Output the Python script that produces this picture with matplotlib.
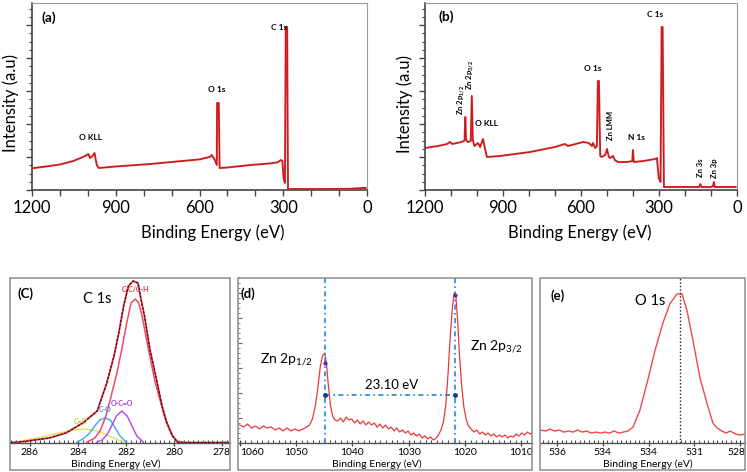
import matplotlib
matplotlib.use("Agg")
import matplotlib.pyplot as plt
from matplotlib.ticker import MultipleLocator, FixedLocator, FixedFormatter
from matplotlib.patches import Rectangle
from matplotlib.transforms import ScaledTranslation

plt.rcParams['font.family'] = ['Lato', 'DejaVu Sans']
plt.rcParams['mathtext.fontset'] = 'custom'
plt.rcParams['mathtext.rm'] = 'Lato'
plt.rcParams['mathtext.bf'] = 'Lato:bold'

# ---------------- data ----------------
# (a) survey spectrum
a_be = [1200, 1150, 1100, 1052, 1009, 998, 992, 983, 976, 968, 960, 900, 776, 700, 597, 561, 556, 545,
        538, 537, 531, 528, 526, 500, 417, 350, 320, 308, 303, 299, 294, 291, 286, 283, 270, 150, 60, 15, 5]
a_int = [21.7, 23.5, 25.5, 29, 34, 36, 32, 34, 37, 25, 22, 23.5, 26, 28, 30.7, 33.3, 35, 30,
         25, 87, 87, 22, 22, 22.5, 25, 26.5, 27.7, 30, 29, 12, 7, 163, 163, 1, 1, 1, 1.2, 2, 2]

# (b) survey spectrum
b_be = [1200, 1150, 1115, 1104, 1095, 1060, 1050, 1048, 1045, 1042, 1035, 1024, 1020, 1016, 1010,
        996, 988, 977, 968, 962, 912, 796, 700, 662, 650, 592, 570, 558, 554, 545, 539, 535, 531,
        526, 521, 507, 500, 493, 488, 477, 470, 458, 420, 403, 400, 397, 360, 315, 308, 301, 294,
        290, 286, 281, 200, 145, 141, 137, 100, 92, 89, 86, 40, 5]
b_int = [42, 44, 46, 48, 46, 48, 49, 50, 73, 50, 48, 49, 94, 50, 44,
         47, 43, 51, 40, 33, 34, 38, 43, 46, 44, 48, 47, 44, 47, 42, 44, 109, 109,
         34, 33, 35, 41, 33, 32, 34, 30, 28, 28, 29, 40, 28, 29, 31, 32, 12, 8,
         163, 163, 3, 3, 3, 6, 3, 3, 4, 8, 3, 3, 3]

# (c) C 1s high resolution
c_env_be = [286.8, 286.4, 285.8, 285.2, 284.5, 283.8, 283.2, 282.8, 282.5, 282.3, 282.1, 281.9,
            281.7, 281.5, 281.37, 281.23, 281.0, 280.7, 280.5, 280.3, 280.08, 279.87, 279.5, 277.7]
c_env_int = [0.5, 1, 3, 5, 10, 20, 32, 60, 87, 110, 137, 157,
             162, 160, 143, 127, 93, 60, 37, 20, 8, 1, 0.5, 0.5]
c_cc_be = [283.63, 283.3, 283.08, 282.85, 282.66, 282.38, 282.18, 281.97, 281.79, 281.61, 281.47,
           281.33, 281.06, 280.78, 280.40, 280.08, 279.80]
c_cc_int = [0.7, 5, 12, 26, 43, 70, 93, 120, 140, 144, 140, 127, 93, 60, 27, 7, 0.7]
c_co_be = [284.05, 283.8, 283.55, 283.3, 283.1, 282.87, 282.65, 282.45, 282.25, 282.0]
c_co_int = [0.7, 4, 9, 17, 23, 25, 23, 15, 7, 1]
c_oco_be = [283.22, 283.0, 282.8, 282.6, 282.4, 282.18, 281.95, 281.75, 281.55, 281.27]
c_oco_int = [0.7, 3, 8, 17, 27, 32, 27, 17, 7, 0.7]
c_y_be = [286.41, 285.8, 285.17, 284.6, 284.19, 283.77, 283.4, 283.08, 282.8, 282.52, 282.1]
c_y_int = [2, 4.5, 8, 11, 13, 14, 13, 11, 8, 5, 0.7]
c_tick_pos = [286, 284, 282, 280, 278]

# (d) Zn 2p
d_be = [1060.0, 1059.3, 1058.6, 1057.9, 1057.2, 1056.5, 1055.8, 1055.1, 1054.4, 1053.7, 1053.0,
        1052.3, 1051.6, 1050.9, 1050.2, 1049.5, 1048.8, 1048.1, 1047.6, 1047.1, 1046.6, 1046.1,
        1045.7, 1045.3, 1044.9, 1044.6, 1044.3, 1043.9, 1043.5, 1043.1, 1042.6, 1042.1, 1041.6,
        1041.1, 1040.6, 1040.1, 1039.6, 1039.1, 1038.6, 1038.1, 1037.6, 1037.1, 1036.6, 1036.1,
        1035.6, 1035.1, 1034.6, 1034.1, 1033.6, 1033.1, 1032.6, 1032.1, 1031.6, 1031.1, 1030.6,
        1030.1, 1029.6, 1029.1, 1028.6, 1028.1, 1027.6, 1027.1, 1026.6, 1026.1, 1025.6, 1025.1,
        1024.6, 1024.2, 1023.8, 1023.4, 1023.0, 1022.6, 1022.2, 1021.9, 1021.6, 1021.3, 1021.0,
        1020.6, 1020.2, 1019.8, 1019.4, 1018.9, 1018.4, 1017.9, 1017.4, 1016.9, 1016.4, 1015.9,
        1015.4, 1014.9, 1014.4, 1013.9, 1013.4, 1012.9, 1012.4, 1011.9, 1011.4, 1010.9, 1010.4,
        1009.9, 1009.4, 1008.9, 1008.4, 1008.1]
d_int = [18, 16, 19, 15, 17, 14, 17, 15, 16, 13, 15,
         12, 15, 12, 14, 12, 14, 16, 18, 24, 36, 56,
         76, 87, 90, 80, 60, 38, 27, 23, 22, 25, 21,
         26, 23, 24, 20, 23, 19, 22, 18, 21, 18, 20,
         16, 19, 15, 18, 14, 16, 12, 15, 11, 13, 10,
         12, 8, 10, 7, 9, 5, 7, 4, 6, 3, 5,
         9, 14, 22, 38, 70, 108, 138, 150, 146, 122, 90,
         58, 36, 24, 17, 14, 11, 13, 9, 11, 8, 10,
         7, 9, 6, 8, 6, 8, 5, 7, 6, 9, 7,
         10, 8, 11, 9, 10]
d_peaks = [1044.9, 1021.8]
d_tick_pos = [1060, 1050, 1040, 1030, 1020, 1010]

# (e) O 1s
e_be = [536.7, 536.5, 536.3, 536.1, 535.9, 535.7, 535.5, 535.3, 535.1, 534.9, 534.7, 534.5, 534.3,
        534.1, 533.9, 533.7, 533.5, 533.3, 533.1, 532.9, 532.68, 532.38, 532.07, 531.72, 531.37,
        531.07, 530.76, 530.54, 530.32, 530.06, 529.76, 529.45, 529.19, 529.0, 528.8, 528.6,
        528.45, 528.2, 528.0, 527.8]
e_int = [13, 12, 14, 12, 13, 11, 12, 11, 13, 11, 12, 10, 11,
         10, 11, 10, 12, 10, 11, 12, 16, 33, 60, 93, 121,
         140, 150, 150, 133, 103, 66, 40, 20, 15, 12, 10,
         12, 9, 8, 9]
e_peak = 530.63
e_tick_pos = [536, 534, 532, 530, 528]
e_tick_lab = ["536", "534", "534", "531", "528"]

# ---------------- figure ----------------
W, H = 747, 472
fig = plt.figure(figsize=(W / 100, H / 100), dpi=100)


def box(l, t, r, b):
    return [l / W, 1 - b / H, (r - l) / W, (b - t) / H]


def frame(l, t, r, b):
    fig.add_artist(Rectangle((l / W, 1 - b / H), (r - l) / W, (b - t) / H,
                             transform=fig.transFigure, fill=False, ec='#8c8c8c', lw=1.1, zorder=5))


RED = '#e8262a'
DARK = '#4a0000'


def survey(ax, be, inten, xlab_x):
    ax.plot(be, inten, color=RED, lw=1.4, zorder=3)
    ax.plot(be, inten, color=DARK, lw=0.5, alpha=0.35, zorder=4)
    ax.set_xlim(1200, 0)
    ax.set_ylim(0, 187)
    ax.xaxis.set_major_locator(MultipleLocator(300))
    ax.xaxis.set_minor_locator(MultipleLocator(100))
    ax.yaxis.set_major_locator(MultipleLocator(33))
    ax.yaxis.set_minor_locator(MultipleLocator(8.25))
    ax.tick_params(axis='x', which='both', direction='out', length=4, width=1, color='#444444',
                   labelsize=12, pad=3)
    ax.tick_params(axis='y', which='major', direction='out', length=4, width=1, color='#444444',
                   labelleft=False)
    ax.tick_params(axis='y', which='minor', direction='out', length=2, width=0.8, color='#444444')
    for s in ('top', 'right'):
        ax.spines[s].set_color('#9a9a9a')
    for s in ('left', 'bottom'):
        ax.spines[s].set_color('#444444')
        ax.spines[s].set_linewidth(1.2)
    ax.set_xlabel('Binding Energy (eV)', fontsize=12, va='baseline')
    ax.xaxis.set_label_coords(xlab_x, -0.257)
    ax.set_ylabel('Intensity (a.u)', fontsize=12, va='bottom')
    ax.yaxis.set_label_coords(-0.039, 0.465)


# (a)
axa = fig.add_axes(box(32, 3, 367, 190))
survey(axa, a_be, a_int, 0.54)
lab = dict(fontsize=6, fontweight='bold', ha='center', va='center')
axa.text(1141, 172, '(a)', fontsize=10, fontweight='bold', ha='center', va='center')
axa.text(315, 163, 'C 1s', **lab)
axa.text(537, 100, 'O 1s', **lab)
axa.text(989, 53, 'O KLL', **lab)

# (b)
axb = fig.add_axes(box(425, 3, 737, 190))
survey(axb, b_be, b_int, 0.497)
axb.yaxis.set_label_coords(-0.04, 0.46)
axb.text(1117, 173, '(b)', fontsize=10, fontweight='bold', ha='center', va='center')
axb.text(315, 176, 'C 1s', **lab)
axb.text(554, 122, 'O 1s', **lab)
axb.text(962, 66, 'O KLL', **lab)
axb.text(385, 53, 'N 1s', **lab)
rl = dict(fontsize=5.5, fontweight='bold', ha='center', va='center', rotation=90, rotation_mode='anchor')
axb.text(1058, 90, r'Zn 2p$_{\mathbf{1/2}}$', **rl)
axb.text(1023, 115, r'Zn 2p$_{\mathbf{3/2}}$', **rl)
axb.text(488, 65, 'Zn LMM', **rl)
axb.text(142, 22, 'Zn 3s', **rl)
axb.text(85, 22, 'Zn 3p', **rl)


def hires(ax, xlim, ylim, ticks, minor, xlab_x, labels=None):
    ax.set_xlim(*xlim)
    ax.set_ylim(*ylim)
    ax.xaxis.set_major_locator(FixedLocator(ticks))
    ax.xaxis.set_major_formatter(FixedFormatter(labels if labels else [str(t) for t in ticks]))
    ax.xaxis.set_minor_locator(MultipleLocator(minor))
    ax.tick_params(axis='x', which='major', direction='inout', length=4, width=0.9, color='#444444',
                   labelsize=7.5, pad=1.5)
    ax.tick_params(axis='x', which='minor', direction='in', length=2, width=0.7, color='#444444')
    ax.tick_params(axis='y', which='both', left=False, labelleft=False)
    for s in ('top', 'left', 'right'):
        ax.spines[s].set_visible(False)
    ax.spines['bottom'].set_color('#555555')
    ax.spines['bottom'].set_linewidth(1.0)
    ax.patch.set_alpha(0)
    ax.set_xlabel('Binding Energy (eV)', fontsize=7.5, va='baseline')
    ax.xaxis.set_label_coords(xlab_x, -0.145)


def nudge(ax, idx, dx_px, ha):
    tk = ax.xaxis.get_major_ticks()[idx]
    tk.label1.set_horizontalalignment(ha)
    tk.label1.set_transform(tk.label1.get_transform() +
                            ScaledTranslation(dx_px / 100, 0, fig.dpi_scale_trans))


# (c)
frame(10, 278, 230, 470)
axc = fig.add_axes(box(10, 278, 230, 443))
hires(axc, (286.83, 277.67), (0, 165), c_tick_pos, 0.2, 0.48)
nudge(axc, 4, -1, 'center')
axc.plot(c_y_be, c_y_int, color='#e2e25a', lw=1.0)
axc.plot(c_co_be, c_co_int, color='#3aa8f0', lw=1.0)
axc.plot(c_oco_be, c_oco_int, color='#b048e8', lw=1.0)
axc.plot(c_cc_be, c_cc_int, color='#f04a68', lw=1.1)
axc.plot(c_env_be, c_env_int, color='#e03040', lw=1.3)
axc.plot(c_env_be, c_env_int, color='#3a0808', lw=0.8, dashes=(2, 1.5))
axc.text(286.5, 149, '(C)', fontsize=9.5, fontweight='bold', ha='left', va='center')
axc.text(283.79, 144, 'C 1s', fontsize=10.5, ha='left', va='center')
sl = dict(fontsize=5, fontweight='bold', ha='center', va='center')
axc.text(281.62, 153, 'C-C/C-H', color='#e03040', **sl)
axc.text(282.87, 33, 'C-O', color='#2a90e0', **sl)
axc.text(282.16, 40, 'O-C=O', color='#a030e0', **sl)
axc.text(283.9, 21, 'C=O', color='#9acd32', **sl)

# (d)
frame(238, 278, 532, 470)
axd = fig.add_axes(box(238, 278, 532, 443))
hires(axd, (1060.3, 1008.1), (0, 165), d_tick_pos, 1, 0.473)
nudge(axd, 0, 0, 'left')
axd.tick_params(axis='y', which='both', left=True, direction='in', color='#666666')
axd.tick_params(axis='y', which='major', length=3)
axd.tick_params(axis='y', which='minor', length=1.5)
axd.yaxis.set_major_locator(MultipleLocator(25))
axd.yaxis.set_minor_locator(MultipleLocator(5))
axd.plot(d_be, d_int, color='#e83a3a', lw=0.9)
for p in d_peaks:
    axd.axvline(p, color='#1e88e5', lw=1.2, dashes=(3, 2, 1, 2))
axd.plot(d_peaks, [48, 48], color='#1e88e5', lw=1.2, dashes=(3, 2, 1, 2))
axd.plot(d_peaks, [48, 48], 'o', color='#1a3a8a', ms=2.5)
axd.plot(d_peaks, [80, 148], 'o', color='#5a2a8a', ms=2)
axd.text(1059.8, 149, '(d)', fontsize=9.5, fontweight='bold', ha='left', va='center')
axd.text(1056.4, 83, r'Zn 2p$_{1/2}$', fontsize=10, ha='left', va='center')
axd.text(1019.1, 96, r'Zn 2p$_{3/2}$', fontsize=10, ha='left', va='center')
axd.text(1033, 58, '23.10 eV', fontsize=9.5, ha='center', va='center')

# (e)
frame(540, 278, 745, 470)
axe = fig.add_axes(box(540, 278, 745, 443))
hires(axe, (536.74, 527.79), (0, 166), e_tick_pos, 0.2, 0.525, e_tick_lab)
nudge(axe, 4, 5, 'right')
axe.plot(e_be, e_int, color='#f04848', lw=1.0)
axe.axvline(e_peak, color='#222222', lw=1.0, ls=(0, (1, 1.5)))
axe.text(536.3, 148, '(e)', fontsize=9.5, fontweight='bold', ha='left', va='center')
axe.text(532.6, 143, 'O 1s', fontsize=10.5, ha='left', va='center')

fig.savefig('out.png', dpi=100)
